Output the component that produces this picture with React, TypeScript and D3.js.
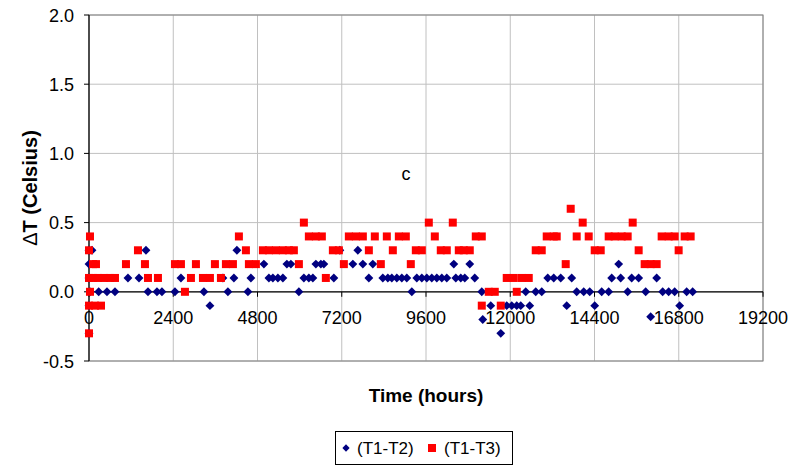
import React from 'react';
import * as d3 from 'd3';

// (hours, deltaT)
const t1t2Hours = [0, 85, 0, 0, 28, 0, 0, 276, 512, 740, 1110, 1424, 1623, 1680, 1936, 2078, 2448, 2619, 3274, 3445, 3815, 3957, 4128, 4213,
  4527, 4612, 4982, 5125, 5238, 5381, 5523, 5637, 5751, 5979, 6121, 6263, 6377, 6463, 6605, 6690, 6975, 7146, 7516, 7658, 7801, 7972, 8085,
  8370, 8513, 8626, 8769, 8911, 9053, 9196, 9338, 9481, 9623, 9765, 9908, 10050, 10192, 10392, 10449, 10591, 10705, 10847, 10989, 11189,
  11217, 11445, 11730, 11900, 12043, 12185, 12299, 12441, 12555, 12726, 12897, 13068, 13239, 13438, 13609, 13751, 13893, 14093, 14264,
  14406, 14605, 14804, 14890, 15089, 15146, 15345, 15459, 15658, 15858, 16000, 16171, 16342, 16513, 16684, 16826, 17025, 17196];
const t1t2Values = [0.3, 0.3, 0.2, 0.1, 0.0, -0.1, -0.3, 0.0, 0.0, 0.0, 0.1, 0.1, 0.3, 0.0, 0.0, 0.0, 0.0, 0.1, 0.0, -0.1, 0.1, 0.0, 0.1, 0.3,
  0.0, 0.1, 0.2, 0.1, 0.1, 0.1, 0.1, 0.2, 0.2, 0.0, 0.1, 0.1, 0.1, 0.2, 0.2, 0.2, 0.1, 0.3, 0.2, 0.3, 0.2, 0.1, 0.2,
  0.1, 0.1, 0.1, 0.1, 0.1, 0.1, 0.0, 0.1, 0.1, 0.1, 0.1, 0.1, 0.1, 0.1, 0.2, 0.1, 0.1, 0.1, 0.2, 0.1, 0.0,
  -0.2, -0.1, -0.3, -0.1, -0.1, -0.1, -0.1, 0.0, -0.1, 0.0, 0.0, 0.1, 0.1, 0.1, -0.1, 0.1, 0.0, 0.0, 0.0,
  -0.1, 0.0, 0.0, 0.1, 0.2, 0.1, 0.0, 0.1, 0.1, 0.0, -0.18, 0.1, 0.0, 0.0, 0.0, -0.1, 0.0, 0.0];

const t1t3Hours = [28, 0, 114, 199, 0, 114, 256, 427, 598, 740, 28, 0, 171, 342, 0, 1053, 1395, 1594, 1680, 1964, 2448, 2619, 2733, 2904,
  3046, 3246, 3445, 3587, 3758, 3900, 4100, 4270, 4470, 4555, 4754, 4954, 5125, 5324, 5523, 5694, 5836, 5979, 6121, 6263, 6463, 6633,
  6747, 6947, 7118, 7260, 7402, 7601, 7801, 7972, 8142, 8313, 8484, 8655, 8826, 9025, 9167, 9310, 9481, 9680, 9851, 10021, 10192, 10363,
  10534, 10676, 10847, 11018, 11189, 11189, 11388, 11559, 11730, 11900, 12100, 12185, 12328, 12527, 12726, 12897, 13039, 13239, 13324,
  13580, 13722, 13893, 14064, 14235, 14406, 14577, 14804, 14975, 15175, 15345, 15488, 15658, 15829, 16000, 16171, 16313, 16513, 16684,
  16797, 16968, 17139];
const t1t3Values = [0.4, 0.3, 0.2, 0.2, 0.1, 0.1, 0.1, 0.1, 0.1, 0.1, 0.0, -0.1, -0.1, -0.1, -0.3, 0.2, 0.3, 0.2, 0.1, 0.1, 0.2, 0.2, 0.0, 0.1,
  0.2, 0.1, 0.1, 0.2, 0.1, 0.2, 0.2, 0.4, 0.3, 0.2, 0.2, 0.3, 0.3, 0.3, 0.3, 0.3, 0.3, 0.2, 0.5, 0.4, 0.4, 0.4,
  0.1, 0.3, 0.3, 0.2, 0.4, 0.4, 0.4, 0.3, 0.4, 0.2, 0.4, 0.3, 0.4, 0.4, 0.2, 0.3, 0.3, 0.5, 0.4, 0.3, 0.3, 0.5,
  0.3, 0.3, 0.3, 0.4, 0.4, -0.1, 0.0, 0.0, -0.1, 0.1, 0.1, 0.0, 0.1, 0.1, 0.3, 0.3, 0.4, 0.4, 0.4,
  0.2, 0.6, 0.4, 0.5, 0.4, 0.3, 0.3, 0.4, 0.4, 0.4, 0.4, 0.5, 0.3, 0.2, 0.2, 0.2, 0.4, 0.4, 0.4,
  0.3, 0.4, 0.4];

const xTicks = [0, 2400, 4800, 7200, 9600, 12000, 14400, 16800, 19200];
const yTicks = [-0.5, 0, 0.5, 1.0, 1.5, 2.0];

const W = 792;
const H = 465;
const left = 89, right = 763, top = 15, bottom = 361;
const font = 'Arial, "Liberation Sans", sans-serif';

export default function App() {
  const x = d3.scaleLinear().domain([0, 19200]).range([left, right]);
  const y = d3.scaleLinear().domain([-0.5, 2.0]).range([bottom, top]);

  const diamond = d3.symbol().type(d3.symbolDiamond2).size(50)();
  const blue = t1t2Hours.map((h, i) => ({ h, v: t1t2Values[i] }));
  const red = t1t3Hours.map((h, i) => ({ h, v: t1t3Values[i] }));

  return (
    <div style={{ position: 'fixed', left: 0, top: 0 }}>
      <svg width={W} height={H} style={{ display: 'block', background: '#fff' }}>
        {/* grid */}
        {xTicks.slice(1).map(t => (
          <line key={'gx' + t} x1={x(t)} x2={x(t)} y1={top} y2={bottom} stroke="#c0c0c0" strokeWidth={1} />
        ))}
        {yTicks.map(t => (
          <line key={'gy' + t} x1={left} x2={right} y1={y(t)} y2={y(t)} stroke="#c0c0c0" strokeWidth={1} />
        ))}
        {/* plot frame */}
        <rect x={left} y={top} width={right - left} height={bottom - top} fill="none" stroke="#808080" strokeWidth={1} />
        {/* axes */}
        <line x1={left} x2={left} y1={top} y2={bottom} stroke="#000" strokeWidth={1.2} />
        <line x1={left} x2={right} y1={y(0)} y2={y(0)} stroke="#000" strokeWidth={1.2} />
        {yTicks.map(t => (
          <g key={'yt' + t}>
            <line x1={left - 5} x2={left} y1={y(t)} y2={y(t)} stroke="#000" />
            <text x={74} y={y(t) + 6.5} textAnchor="end" fontFamily={font} fontSize={18}>{t.toFixed(1)}</text>
          </g>
        ))}
        {xTicks.map(t => (
          <g key={'xt' + t}>
            <line x1={x(t)} x2={x(t)} y1={y(0)} y2={y(0) + 5} stroke="#000" />
            <text x={x(t)} y={y(0) + 32} textAnchor="middle" fontFamily={font} fontSize={18}>{t}</text>
          </g>
        ))}
        {/* series */}
        {blue.map((d, i) => (
          <path key={'b' + i} d={diamond} transform={`translate(${x(d.h)},${y(d.v)})`} fill="#000080" />
        ))}
        {red.map((d, i) => (
          <rect key={'r' + i} x={x(d.h) - 4} y={y(d.v) - 4} width={8} height={8} fill="#ff0000" />
        ))}
        {/* titles */}
        <text transform={`translate(37,${(top + bottom) / 2}) rotate(-90)`} textAnchor="middle" fontFamily={font} fontSize={20} fontWeight="bold">
          <tspan fontWeight="normal">Δ</tspan>T (Celsius)
        </text>
        <text x={(left + right) / 2} y={402} textAnchor="middle" fontFamily={font} fontSize={19} fontWeight="bold">Time (hours)</text>
        <text x={406} y={180} textAnchor="middle" fontFamily={font} fontSize={18}>c</text>
        {/* legend */}
        <rect x={335.5} y={431.5} width={177} height={33} fill="#fff" stroke="#000" strokeWidth={1} />
        <path d={d3.symbol().type(d3.symbolDiamond2).size(34)()} transform="translate(346,448)" fill="#000080" />
        <text x={357} y={454} fontFamily={font} fontSize={17}>(T1-T2)</text>
        <rect x={428} y={444} width={8} height={8} fill="#ff0000" />
        <text x={444} y={454} fontFamily={font} fontSize={17}>(T1-T3)</text>
      </svg>
    </div>
  );
}
